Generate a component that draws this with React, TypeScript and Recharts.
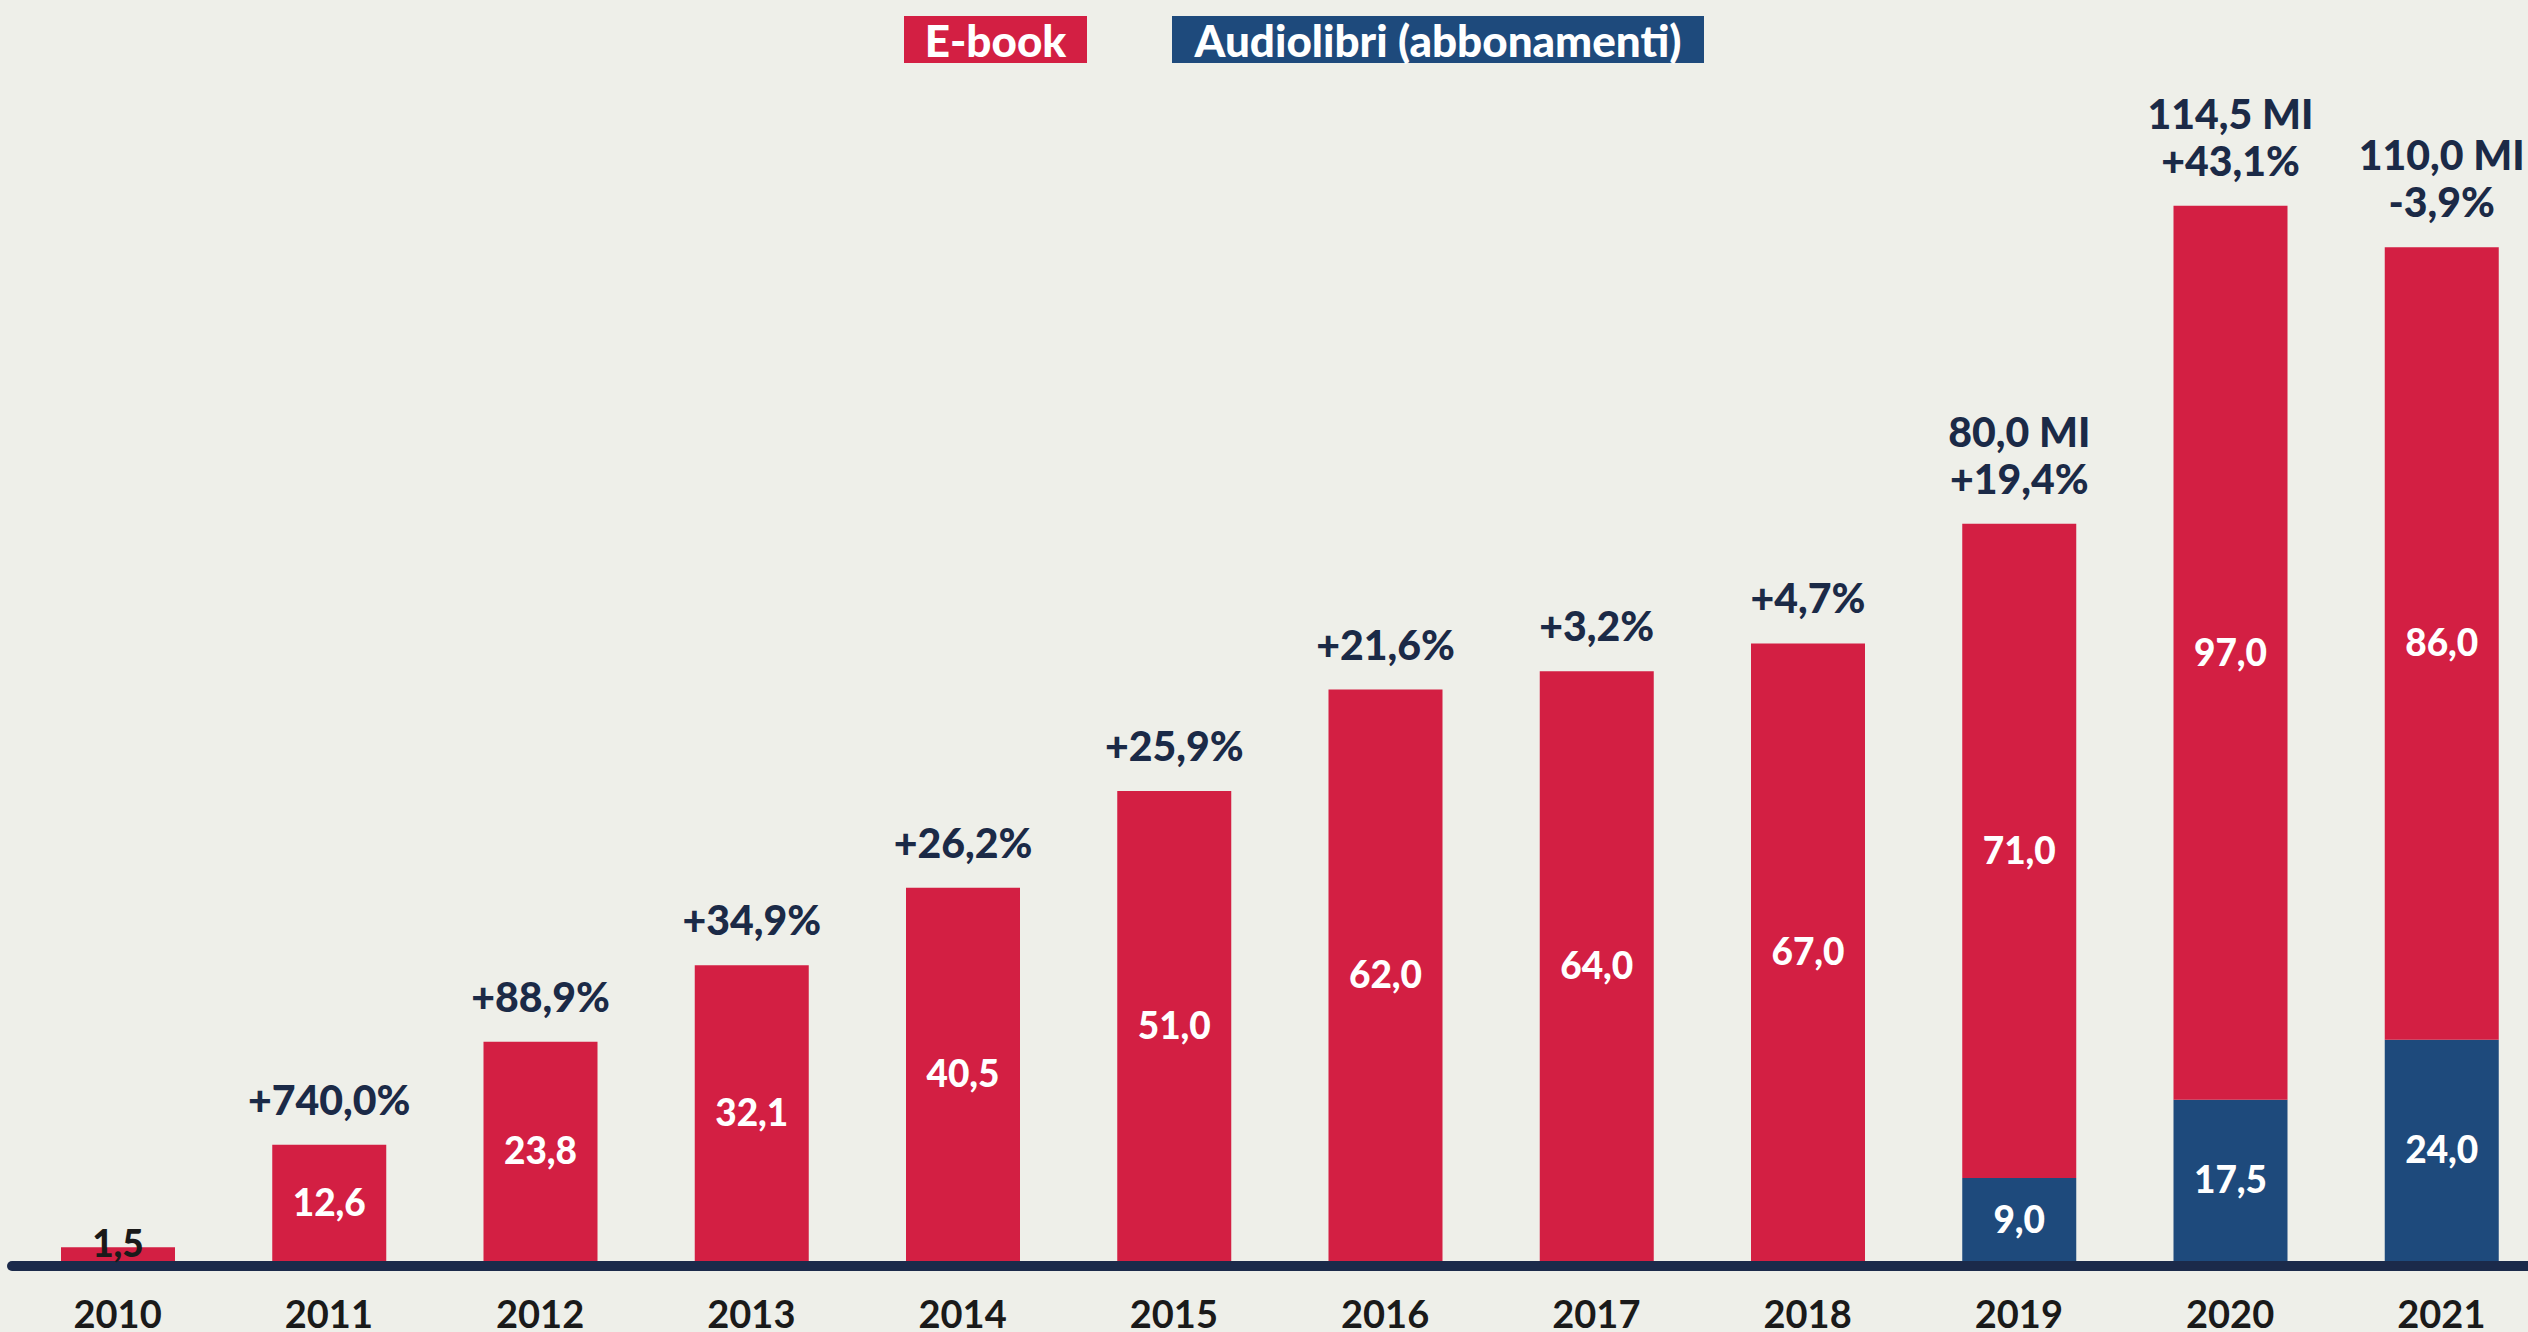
import React from "react";
import { BarChart, Bar, XAxis, YAxis, LabelList, ReferenceLine } from "recharts";

const years = ["2010", "2011", "2012", "2013", "2014", "2015", "2016", "2017", "2018", "2019", "2020", "2021"];
const ebook = [1.5, 12.6, 23.8, 32.1, 40.5, 51.0, 62.0, 64.0, 67.0, 71.0, 97.0, 86.0];
const audiobooks = [0, 0, 0, 0, 0, 0, 0, 0, 0, 9.0, 17.5, 24.0];
const growth = ["", "+740,0%", "+88,9%", "+34,9%", "+26,2%", "+25,9%", "+21,6%", "+3,2%", "+4,7%", "+19,4%", "+43,1%", "-3,9%"];
const totals = ["", "", "", "", "", "", "", "", "", "80,0 MI", "114,5 MI", "110,0 MI"];
const seriesNames = ["E-book", "Audiolibri (abbonamenti)"];

const RED = "#d31f43";
const BLUE = "#1e4a7c";
const NAVY = "#1b2a47";
const BG = "#eeefe9";
const FONT = "Lato, 'Open Sans', sans-serif";

const data = years.map((year, i) => ({
  year,
  ebook: ebook[i],
  audio: audiobooks[i],
  growth: growth[i],
  total: totals[i],
}));

const fmt = (v: number) => v.toFixed(1).replace(".", ",");

function InnerLabel(props: any) {
  const { x, y, width, height, value } = props;
  if (!value) return null;
  const cx = Number(x) + Number(width) / 2;
  if (Number(height) < 40) {
    return (
      <text x={cx} y={Number(y) + Number(height) - 4} textAnchor="middle" fill="#1a1a1a" fontSize={37} fontWeight={900} fontFamily={FONT}>
        {fmt(Number(value))}
      </text>
    );
  }
  return (
    <text x={cx} y={Number(y) + Number(height) / 2 + 13} textAnchor="middle" fill="#fff" fontSize={37} fontWeight={900} fontFamily={FONT}>
      {fmt(Number(value))}
    </text>
  );
}

function topLabel(offset: number) {
  return (props: any) => {
    const { x, y, width, value } = props;
    if (!value) return null;
    return (
      <text x={Number(x) + Number(width) / 2} y={Number(y) - offset} textAnchor="middle" fill={NAVY} fontSize={41} fontWeight={900} fontFamily={FONT}>
        {value}
      </text>
    );
  };
}

export default function App() {
  return (
    <div style={{ position: "absolute", left: 0, top: 0, width: 2528, height: 1332, overflow: "hidden", background: BG }}>
      <div style={{ position: "absolute", top: 16, left: 904, display: "flex", fontFamily: FONT, fontWeight: 900, fontSize: 44, color: "#fff" }}>
        <div style={{ width: 183, height: 47, background: RED, display: "flex", alignItems: "center", justifyContent: "center" }}>
          {seriesNames[0]}
        </div>
        <div style={{ width: 532, height: 47, marginLeft: 85, background: BLUE, display: "flex", alignItems: "center", justifyContent: "center" }}>
          {seriesNames[1]}
        </div>
      </div>
      <BarChart width={2560} height={1332} data={data} margin={{ top: 155, right: 13, left: 12, bottom: 0 }} barSize={114}>
        <YAxis hide domain={[0, 120]} />
        <XAxis
          dataKey="year"
          height={71}
          axisLine={false}
          tickLine={false}
          tickSize={0}
          tickMargin={40}
          tick={{ fill: "#1a1a1a", fontSize: 38, fontWeight: 700, fontFamily: FONT }}
          interval={0}
        />
        <ReferenceLine y={-0.55} ifOverflow="visible" stroke="#1b2a4a" strokeWidth={10} strokeLinecap="round" />
        <Bar dataKey="audio" stackId="a" fill={BLUE} isAnimationActive={false}>
          <LabelList dataKey="audio" content={InnerLabel} />
        </Bar>
        <Bar dataKey="ebook" stackId="a" fill={RED} isAnimationActive={false}>
          <LabelList dataKey="ebook" content={InnerLabel} />
          <LabelList dataKey="growth" content={topLabel(30)} />
          <LabelList dataKey="total" content={topLabel(77)} />
        </Bar>
      </BarChart>
    </div>
  );
}
